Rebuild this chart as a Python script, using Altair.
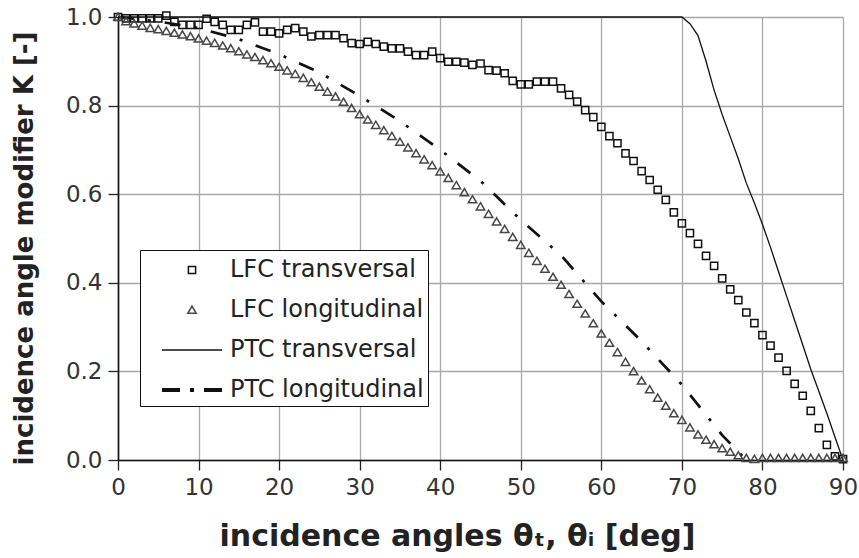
import altair as alt
import pandas as pd

# ---------------- data ----------------
angles = list(range(0, 91))

lfc_transversal = [
    1.0, 0.997, 0.997, 0.997, 0.997, 0.997, 1.003, 0.989, 0.982, 0.982,
    0.982, 0.996, 0.989, 0.982, 0.971, 0.971, 0.982, 0.988, 0.967, 0.967,
    0.963, 0.971, 0.975, 0.967, 0.956, 0.959, 0.959, 0.959, 0.952, 0.941,
    0.939, 0.944, 0.939, 0.933, 0.929, 0.929, 0.922, 0.914, 0.914, 0.922,
    0.907, 0.899, 0.899, 0.897, 0.892, 0.895, 0.880, 0.879, 0.873, 0.856,
    0.848, 0.848, 0.854, 0.854, 0.854, 0.839, 0.824, 0.809, 0.790, 0.774,
    0.752, 0.731, 0.715, 0.692, 0.675, 0.652, 0.632, 0.610, 0.587, 0.559,
    0.534, 0.512, 0.488, 0.461, 0.438, 0.410, 0.385, 0.361, 0.333, 0.309,
    0.282, 0.258, 0.231, 0.201, 0.172, 0.145, 0.111, 0.072, 0.034, 0.008,
    0.002,
]

lfc_longitudinal = [
    1.0, 0.990, 0.985, 0.980, 0.975, 0.972, 0.968, 0.964, 0.960, 0.956,
    0.951, 0.946, 0.941, 0.935, 0.929, 0.922, 0.915, 0.909, 0.902, 0.895,
    0.887, 0.879, 0.871, 0.862, 0.852, 0.842, 0.831, 0.820, 0.808, 0.794,
    0.780, 0.768, 0.756, 0.744, 0.731, 0.718, 0.705, 0.692, 0.678, 0.665,
    0.651, 0.636, 0.620, 0.604, 0.588, 0.572, 0.555, 0.538, 0.521, 0.503,
    0.485, 0.467, 0.449, 0.431, 0.413, 0.395, 0.374, 0.352, 0.330, 0.308,
    0.285, 0.264, 0.243, 0.221, 0.200, 0.179, 0.159, 0.140, 0.122, 0.105,
    0.090, 0.073, 0.057, 0.045, 0.035, 0.026, 0.018, 0.010, 0.004, 0.002,
    0.004, 0.004, 0.004, 0.004, 0.004, 0.004, 0.004, 0.004, 0.004, 0.004,
    0.004,
]

ptc_transversal_x = [0, 70, 71, 72, 73, 74, 75, 76, 77, 78, 79, 80,
                     81, 82, 83, 84, 85, 86, 87, 88, 89, 90]
ptc_transversal_k = [1.0, 1.0, 0.985, 0.958, 0.900, 0.835, 0.780, 0.730,
                     0.680, 0.625, 0.580, 0.532, 0.480, 0.425, 0.370,
                     0.315, 0.260, 0.205, 0.155, 0.105, 0.052, 0.0]

ptc_longitudinal_x = [0, 5, 10, 15, 20, 25, 30, 35, 40, 45, 50, 55, 60,
                      65, 70, 75, 78]
ptc_longitudinal_k = [1.0, 0.990, 0.975, 0.950, 0.916, 0.875, 0.822, 0.765,
                      0.700, 0.630, 0.542, 0.462, 0.358, 0.268, 0.170,
                      0.056, 0.0]

series = ["LFC transversal", "LFC longitudinal",
          "PTC transversal", "PTC longitudinal"]

x_ticks = [0, 10, 20, 30, 40, 50, 60, 70, 80, 90]
y_ticks = [0.0, 0.2, 0.4, 0.6, 0.8, 1.0]

# ---------------- tables ----------------
points_df = pd.DataFrame({
    "angle": angles + angles,
    "K": lfc_transversal + lfc_longitudinal,
    "series": [series[0]] * len(angles) + [series[1]] * len(angles),
})
ptc_t_df = pd.DataFrame({"angle": ptc_transversal_x, "K": ptc_transversal_k})
ptc_l_df = pd.DataFrame({"angle": ptc_longitudinal_x, "K": ptc_longitudinal_k})

FONT = "DejaVu Sans"

x_enc = alt.X(
    "angle:Q",
    scale=alt.Scale(domain=[0, 90], nice=False),
    axis=alt.Axis(
        values=x_ticks, title="incidence angles θₜ, θᵢ [deg]",
        titleX=339, titleY=85, titleBaseline="alphabetic",
        titleAlign="center", labelFlush=False,
    ),
)
y_enc = alt.Y(
    "K:Q",
    scale=alt.Scale(domain=[0, 1], nice=False),
    axis=alt.Axis(
        values=y_ticks, format=".1f",
        title="incidence angle modifier K [-]",
        titleX=-94, titleY=231, titleAngle=-90, titleBaseline="middle",
        titleAlign="center", labelFlush=False,
    ),
)

# symbol glyphs (unit box -1..1 is scaled to sqrt(size) pixels)
SQUARE = "M-0.24,-0.24H0.24V0.24H-0.24Z"
TRIANGLE = "M0,-0.26L0.28,0.22H-0.28Z"
SOLID = "M-2,0H2"
DASHDOT = ("M-2,-0.08H-0.8M-2,0H-0.8M-2,0.08H-0.8"
           "M-0.133,-0.08H0.133M-0.133,0H0.133M-0.133,0.08H0.133"
           "M0.8,-0.08H2M0.8,0H2M0.8,0.08H2")

legend_props = dict(
    title=None, orient="none", legendX=22, legendY=233,
    direction="vertical", padding=4, strokeColor="#111111",
    fillColor="white", cornerRadius=0,
    labelFont=FONT, labelFontSize=24, labelColor="#222222",
    labelOffset=22, rowPadding=12, labelLimit=0, symbolOffset=32,
    symbolSize=900, symbolStrokeWidth=1.5,
    symbolFillColor="transparent",
)

shape_enc = alt.Shape(
    "series:N",
    scale=alt.Scale(domain=series,
                    range=[SQUARE, TRIANGLE, SOLID, DASHDOT]),
    legend=alt.Legend(**legend_props),
)
color_enc = alt.Color(
    "series:N",
    scale=alt.Scale(domain=series,
                    range=["#111111", "#474747", "#111111", "#111111"]),
    legend=alt.Legend(**legend_props),
)

line_t = alt.Chart(ptc_t_df).mark_line(
    color="#111111", strokeWidth=1.3
).encode(x=x_enc, y=y_enc)

line_l = alt.Chart(ptc_l_df).mark_line(
    color="#111111", strokeWidth=2.7, strokeDash=[16, 14, 3, 14]
).encode(x=x_enc, y=y_enc)

points = alt.Chart(points_df).mark_point(
    filled=False, size=900, strokeWidth=1.5, opacity=1
).encode(
    x=x_enc, y=y_enc, shape=shape_enc, color=color_enc,
)

chart = alt.layer(line_t, line_l, points).properties(
    width=725, height=443,
    autosize=alt.AutoSizeParams(type="none"),
    padding={"left": 118, "top": 17, "right": 16, "bottom": 98},
    background="white",
).configure_view(
    strokeWidth=0
).configure_axis(
    labelFont=FONT, labelFontSize=23, labelColor="#333333",
    titleFont=FONT, titleFontSize=26, titleFontWeight="bold",
    titleColor="#222222",
    domainColor="#111111", domainWidth=1.6,
    tickColor="#222222", tickSize=10, tickWidth=1.3,
    gridColor="#a8a8a8", gridWidth=1.3, grid=True,
    labelPadding=6, labelOverlap=False,
).configure_axisX(
    titleFontSize=30,
)

chart.save("out.html", embed_options={"renderer": "svg", "actions": False})
